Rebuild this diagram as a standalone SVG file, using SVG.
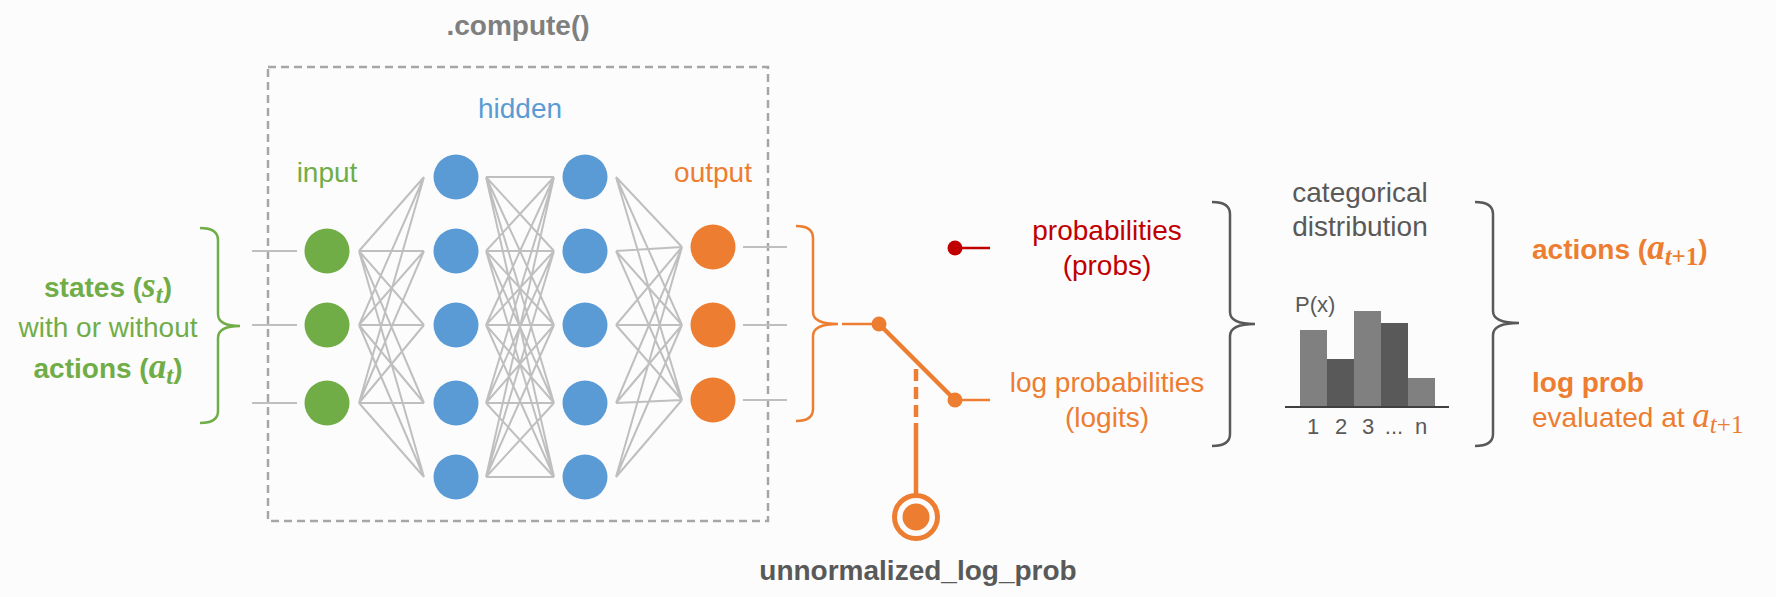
<svg xmlns="http://www.w3.org/2000/svg" width="1776" height="597" viewBox="0 0 1776 597">
<style>
text{font-family:"Liberation Sans",Arial,sans-serif;font-size:28px}
text.sm{font-size:22px}
.b{font-weight:bold}
.m{font-family:"Liberation Serif","Times New Roman",serif;font-style:italic}
.grn{fill:#70ad47}.blu{fill:#5b9bd5}.org{fill:#ed7d31}.red{fill:#c00000}.gry{fill:#595959}
.net{stroke:#bfbfbf;stroke-width:2;fill:none}
.brace{fill:none;stroke-width:2.5}
</style>
<rect width="1776" height="597" fill="#fcfcfc"/>

<g id="compute-box">
<rect x="268" y="67" width="500" height="454" fill="none" stroke="#a6a6a6" stroke-width="2.5" stroke-dasharray="8 5"/>
<text x="518" y="35" text-anchor="middle" class="b" fill="#7f7f7f">.compute()</text>
</g>

<g id="connectors">
<path class="net" d="M252 251H297M252 325H297M252 403H297M743 247H787M743 325H787M743 400H787"/>
<path class="net" d="M359 251L424 177M359 251L424 251M359 251L424 325M359 251L424 403M359 251L424 477M359 325L424 177M359 325L424 251M359 325L424 325M359 325L424 403M359 325L424 477M359 403L424 177M359 403L424 251M359 403L424 325M359 403L424 403M359 403L424 477"/>
<path class="net" d="M486 177L554 177M486 177L554 251M486 177L554 325M486 177L554 403M486 177L554 477M486 251L554 177M486 251L554 251M486 251L554 325M486 251L554 403M486 251L554 477M486 325L554 177M486 325L554 251M486 325L554 325M486 325L554 403M486 325L554 477M486 403L554 177M486 403L554 251M486 403L554 325M486 403L554 403M486 403L554 477M486 477L554 177M486 477L554 251M486 477L554 325M486 477L554 403M486 477L554 477"/>
<path class="net" d="M616 177L682 247M616 177L682 325M616 177L682 400M616 251L682 247M616 251L682 325M616 251L682 400M616 325L682 247M616 325L682 325M616 325L682 400M616 403L682 247M616 403L682 325M616 403L682 400M616 477L682 247M616 477L682 325M616 477L682 400"/>
<path class="brace" stroke="#70ad47" d="M200 228Q218 228 218 240L218 314Q218 326 240 326Q218 326 218 338L218 411Q218 423 200 423"/>
<path class="brace" stroke="#ed7d31" d="M796 226Q813 226 813 238L813 312Q813 324 838 324Q813 324 813 336L813 409Q813 421 796 421"/>
<path class="brace" stroke="#595959" d="M1212 202Q1230 202 1230 214L1230 312Q1230 324 1255 324Q1230 324 1230 336L1230 434Q1230 446 1212 446"/>
<path class="brace" stroke="#595959" d="M1475 202Q1493 202 1493 214L1493 311Q1493 323 1519 323Q1493 323 1493 335L1493 434Q1493 446 1475 446"/>
<g id="switch" stroke="#ed7d31" fill="none">
<path d="M842 324H879M955 400H990" stroke-width="2.5"/>
<path d="M879 324L955 400" stroke-width="4.5"/>
<path d="M916 369V426" stroke-width="4.5" stroke-dasharray="12 6"/>
<path d="M916 426V496" stroke-width="4.5"/>
<circle cx="879" cy="324" r="7.5" fill="#ed7d31" stroke="none"/>
<circle cx="955" cy="400" r="7.5" fill="#ed7d31" stroke="none"/>
</g>
<path d="M955 248H990" stroke="#c00000" stroke-width="2.5"/>
<circle cx="955" cy="248" r="7.5" fill="#c00000"/>
</g>

<g id="input-layer">
<text x="327" y="182" text-anchor="middle" class="grn">input</text>
<circle cx="327" cy="251" r="22.5" fill="#70ad47"/>
<circle cx="327" cy="325" r="22.5" fill="#70ad47"/>
<circle cx="327" cy="403" r="22.5" fill="#70ad47"/>
</g>

<g id="hidden-layers">
<text x="520" y="118" text-anchor="middle" class="blu">hidden</text>
<circle cx="456" cy="177" r="22.5" fill="#5b9bd5"/>
<circle cx="456" cy="251" r="22.5" fill="#5b9bd5"/>
<circle cx="456" cy="325" r="22.5" fill="#5b9bd5"/>
<circle cx="456" cy="403" r="22.5" fill="#5b9bd5"/>
<circle cx="456" cy="477" r="22.5" fill="#5b9bd5"/>
<circle cx="585" cy="177" r="22.5" fill="#5b9bd5"/>
<circle cx="585" cy="251" r="22.5" fill="#5b9bd5"/>
<circle cx="585" cy="325" r="22.5" fill="#5b9bd5"/>
<circle cx="585" cy="403" r="22.5" fill="#5b9bd5"/>
<circle cx="585" cy="477" r="22.5" fill="#5b9bd5"/>
</g>

<g id="output-layer">
<text x="713" y="182" text-anchor="middle" class="org">output</text>
<circle cx="713" cy="247" r="22.5" fill="#ed7d31"/>
<circle cx="713" cy="325" r="22.5" fill="#ed7d31"/>
<circle cx="713" cy="400" r="22.5" fill="#ed7d31"/>
</g>

<g id="states-label">
<text x="108" y="297" text-anchor="middle" class="grn"><tspan class="b">states (</tspan><tspan class="m b" font-size="35">s</tspan><tspan class="m b" font-size="25" dy="6">t</tspan><tspan class="b" dy="-6">)</tspan></text>
<text x="108" y="337" text-anchor="middle" class="grn">with or without</text>
<text x="108" y="378" text-anchor="middle" class="grn"><tspan class="b">actions (</tspan><tspan class="m b" font-size="35">a</tspan><tspan class="m b" font-size="25" dy="6">t</tspan><tspan class="b" dy="-6">)</tspan></text>
</g>

<g id="probs-label">
<text x="1107" y="240" text-anchor="middle" class="red">probabilities</text>
<text x="1107" y="275" text-anchor="middle" class="red">(probs)</text>
</g>

<g id="logits-label">
<text x="1107" y="392" text-anchor="middle" class="org">log probabilities</text>
<text x="1107" y="427" text-anchor="middle" class="org">(logits)</text>
</g>

<g id="unnormalized">
<circle cx="916" cy="517" r="21.5" fill="none" stroke="#ed7d31" stroke-width="5"/>
<circle cx="916" cy="517" r="13.5" fill="#ed7d31"/>
<text x="918" y="580" text-anchor="middle" class="b gry">unnormalized_log_prob</text>
</g>

<g id="categorical">
<text x="1360" y="202" text-anchor="middle" class="gry">categorical</text>
<text x="1360" y="236" text-anchor="middle" class="gry">distribution</text>
<text x="1295" y="312" class="gry sm">P(x)</text>
<rect x="1300" y="330" width="27" height="77" fill="#808080"/>
<rect x="1327" y="359" width="27" height="48" fill="#595959"/>
<rect x="1354" y="311" width="27" height="96" fill="#808080"/>
<rect x="1381" y="323" width="27" height="84" fill="#595959"/>
<rect x="1408" y="378" width="27" height="29" fill="#808080"/>
<path d="M1285 407H1449" stroke="#404040" stroke-width="2"/>
<text x="1313" y="434" text-anchor="middle" class="gry sm">1</text>
<text x="1341" y="434" text-anchor="middle" class="gry sm">2</text>
<text x="1368" y="434" text-anchor="middle" class="gry sm">3</text>
<text x="1394" y="434" text-anchor="middle" class="gry sm">...</text>
<text x="1421" y="434" text-anchor="middle" class="gry sm">n</text>
</g>

<g id="result-labels">
<text x="1532" y="259" class="org"><tspan class="b">actions (</tspan><tspan class="m b" font-size="35">a</tspan><tspan class="m b" font-size="25" dy="6">t</tspan><tspan class="b" font-size="25" font-family="Liberation Serif">+1</tspan><tspan class="b" dy="-6">)</tspan></text>
<text x="1532" y="392" class="org b">log prob</text>
<text x="1532" y="427" class="org">evaluated at <tspan class="m" font-size="35">a</tspan><tspan class="m" font-size="25" dy="6">t</tspan><tspan font-size="25" font-family="Liberation Serif">+1</tspan></text>
</g>
</svg>
